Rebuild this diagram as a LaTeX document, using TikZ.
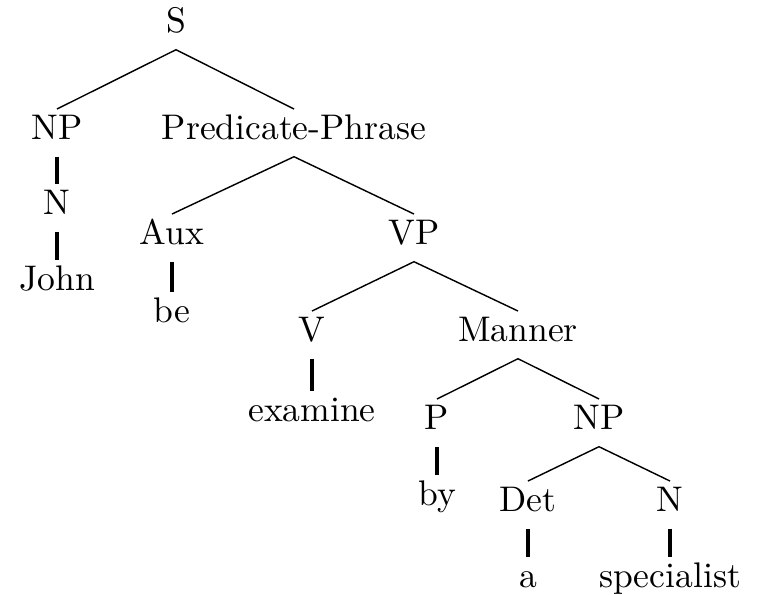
\documentclass[tikz,border=0pt]{standalone}
\usepackage{tikz}
\usetikzlibrary{positioning}
\tikzstyle{cat} = [anchor=base, text height=7pt, text depth=3pt, inner sep=1.5pt]
\tikzstyle{branch} = [line width=0.4pt]
\tikzstyle{unary} = [line width=0.9pt]

\begin{document}
\begin{tikzpicture}[x=0.281pt,y=-0.281pt]
		\useasboundingbox (0,0) rectangle (759,595);

		\node [cat] (S) at (176,33) {S};
		\node [cat] (NPa) at (57,140) {NP};
		\node [cat] (PP) at (294,140) {Predicate-Phrase};
		\node [cat] (Na) at (57,215) {N};
		\node [cat] (John) at (57,291) {John};
		\node [cat] (Aux) at (172,245) {Aux};
		\node [cat] (VP) at (414,245) {VP};
		\node [cat] (be) at (172,323) {be};
		\node [cat] (V) at (312,342) {V};
		\node [cat] (Man) at (518,342) {Manner};
		\node [cat] (exam) at (312,422) {examine};
		\node [cat] (P) at (437,430) {P};
		\node [cat] (NPb) at (599,430) {NP};
		\node [cat] (by) at (437,506) {by};
		\node [cat] (Det) at (528,512) {Det};
		\node [cat] (Nb) at (670,512) {N};
		\node [cat] (a) at (528,588) {a};
		\node [cat] (spec) at (670,588) {specialist};

		% branching
		\draw[branch] (NPa.north) -- (S.south) -- (PP.north);
		\draw[branch] (Aux.north) -- (PP.south) -- (VP.north);
		\draw[branch] (V.north) -- (VP.south) -- (Man.north);
		\draw[branch] (P.north) -- (Man.south) -- (NPb.north);
		\draw[branch] (Det.north) -- (NPb.south) -- (Nb.north);

		% unary
		\draw[unary] (NPa.south) -- (Na.north);
		\draw[unary] (Na.south) -- (John.north);
		\draw[unary] (Aux.south) -- (be.north);
		\draw[unary] (V.south) -- (exam.north);
		\draw[unary] (P.south) -- (by.north);
		\draw[unary] (Det.south) -- (a.north);
		\draw[unary] (Nb.south) -- (spec.north);
\end{tikzpicture}
\end{document}
